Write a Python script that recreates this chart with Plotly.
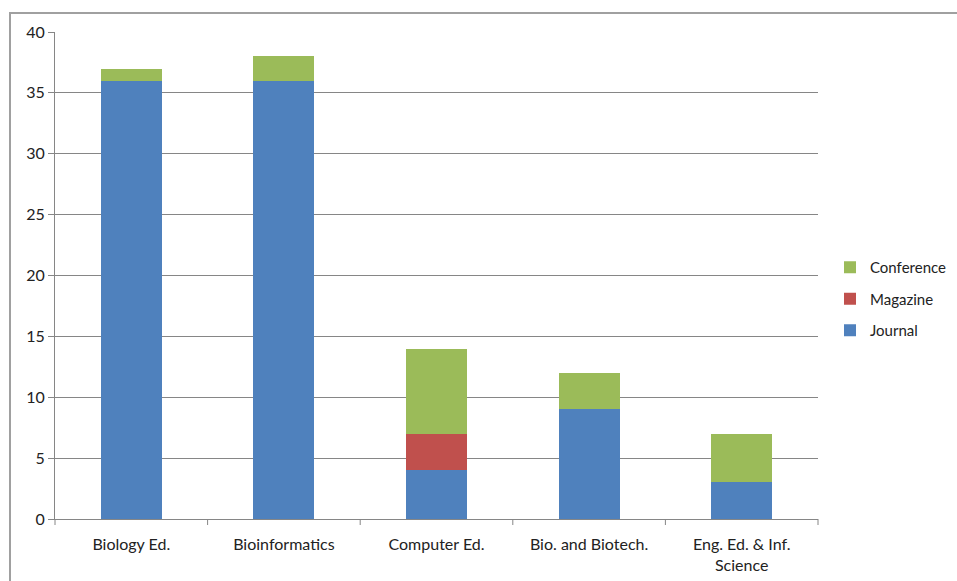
import plotly.graph_objects as go

categories = ["Biology Ed.", "Bioinformatics", "Computer Ed.", "Bio. and Biotech.", "Eng. Ed. & Inf.<br>Science"]
journal = [36, 36, 4, 9, 3]
magazine = [0, 0, 3, 0, 0]
conference = [1, 2, 7, 3, 4]
y_ticks = [0, 5, 10, 15, 20, 25, 30, 35, 40]

W, H = 957, 581
L, R, T, B = 55, 818, 32, 519

fig = go.Figure()
fig.add_trace(go.Bar(name="Journal", x=categories, y=journal, marker_color="#4F81BD",
                     marker_line_width=0, legendgroup="j", legendrank=3))
fig.add_trace(go.Bar(name="Magazine", x=categories, y=magazine, marker_color="#C0504D",
                     marker_line_width=0, legendgroup="m", legendrank=2))
fig.add_trace(go.Bar(name="Conference", x=categories, y=conference, marker_color="#9BBB59",
                     marker_line_width=0, legendgroup="c", legendrank=1))

def px(xp):
    return (xp - L) / (R - L)

def py(yp):
    return (B - yp) / (B - T)

fig.update_layout(
    barmode="stack",
    bargap=0.6,
    width=W, height=H,
    margin=dict(l=L, r=W - R, t=T, b=H - B, autoexpand=False),
    plot_bgcolor="white",
    paper_bgcolor="white",
    font=dict(family="Lato, Open Sans, sans-serif", size=16, color="#222"),
    legend=dict(
        traceorder="grouped",
        x=px(830), y=py(251), xanchor="left", yanchor="top",
        font=dict(size=15),
        itemwidth=30,
        tracegroupgap=9,
    ),
    xaxis=dict(
        showline=True, linecolor="#868686", linewidth=1,
        ticks="outside", ticklen=0, tickfont=dict(size=16),
        ticklabelstandoff=11,
        showgrid=False,
    ),
    yaxis=dict(
        range=[0, 40], tickvals=y_ticks,
        showline=True, linecolor="#868686", linewidth=1,
        ticks="outside", ticklen=6, tickcolor="#868686",
        showgrid=True, gridcolor="#868686", gridwidth=1,
        tickfont=dict(size=16), zeroline=False,
    ),
    shapes=[
        dict(type="rect", xref="paper", yref="paper",
             x0=px(10), x1=px(980), y0=py(600), y1=py(13),
             line=dict(color="#A0A0A0", width=2), layer="below"),
    ] + [
        dict(type="line", xref="paper", yref="paper",
             x0=i / 5, x1=i / 5, y0=0, y1=py(525),
             line=dict(color="#868686", width=1))
        for i in range(6)
    ],
)
fig.write_html("out.html")
